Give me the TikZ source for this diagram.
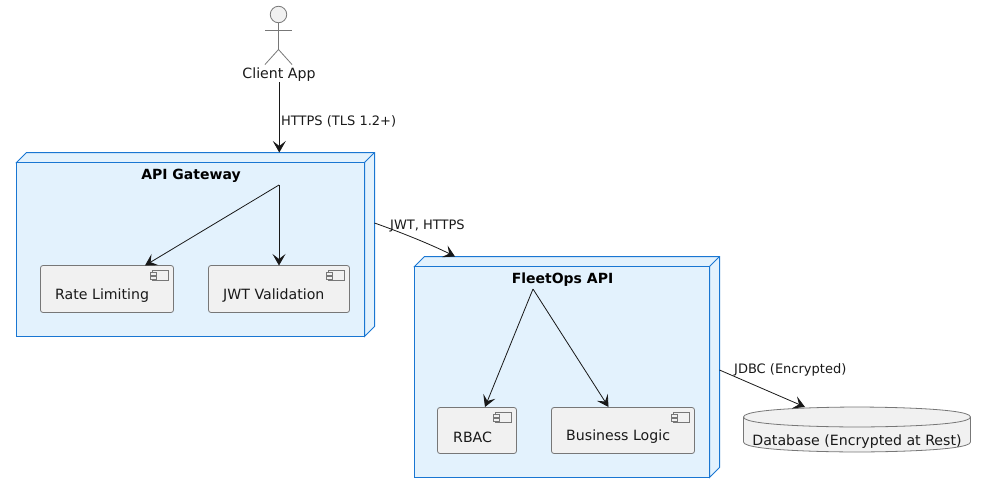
\documentclass[tikz,border=0pt]{standalone}
\usepackage{fontspec}
\setmainfont{DejaVu Sans}
\usetikzlibrary{arrows.meta,calc}
\definecolor{nodeblue}{HTML}{1976D2}
\definecolor{nodefill}{HTML}{E3F2FD}
\definecolor{compfill}{HTML}{F1F1F1}
\definecolor{ink}{HTML}{181818}
\definecolor{edgegray}{HTML}{777777}
\tikzset{
  x=1pt,y=-1pt,
  flow/.style={draw=ink,line width=0.8pt,-{Stealth[length=11.5pt,width=13pt,inset=5pt,line width=0.8pt,fill=ink]}},
  nodebox/.style={draw=nodeblue,fill=nodefill,line width=1pt,inner sep=0pt,outer sep=0pt},
  nodeside/.style={draw=nodeblue,fill=nodefill,line width=1pt,line join=miter},
  compbox/.style={draw=edgegray,fill=compfill,line width=0.8pt,rounded corners=2.5pt,inner sep=0pt,outer sep=0pt},
  iconbox/.style={draw=edgegray,fill=compfill,line width=0.8pt},
  lbl/.style={font=\fontsize{14.15}{16}\selectfont,text=black!90,inner sep=0pt},
  edgelbl/.style={font=\fontsize{13}{15}\selectfont,text=black!90,inner sep=0pt,anchor=west},
  titlelbl/.style={font=\fontsize{14}{16}\selectfont\bfseries,text=black,inner sep=0pt},
  actorline/.style={draw=edgegray,line width=0.8pt},
}
\begin{document}
\begin{tikzpicture}
\useasboundingbox (0,0) rectangle (986,493);

% Actor
\node[circle,draw=edgegray,fill=compfill,line width=0.8pt,minimum size=16.5pt,inner sep=0pt,outer sep=0pt] (head) at (278.5,14.5) {};
\coordinate (hip) at (278.5,49.5);
\coordinate (armL) at (265,30);
\coordinate (armR) at (292,30);
\coordinate (legL) at (265,64.5);
\coordinate (legR) at (292,64.5);
\draw[actorline] (head.south) -- (hip);
\draw[actorline] (armL) -- (armR);
\draw[actorline] (legL) -- (hip) -- (legR);
\node[lbl] (client) at (279,75) {Client App};

% API Gateway node
\draw[nodeside] (16.5,162.5) -- ++(10,-10) -- ++(348,0) -- ++(0,174) -- (364.5,336.5) -- (364.5,162.5) -- cycle;
\draw[nodeside] (364.5,162.5) -- ++(10,-10);
\node[nodebox,minimum width=348pt,minimum height=174pt] (gw) at (190.5,249.5) {};
\coordinate (gwtop) at (279.3,152.5);
\coordinate (gwright) at (374.5,223);
\node[titlelbl] (gwtitle) at (191,176) {API Gateway};
\coordinate (gwhub) at (279,185);

\node[compbox,minimum width=133pt,minimum height=47pt] (rate) at (107,289) {};
\node[lbl,anchor=west] (ratetxt) at (55,296) {Rate Limiting};
\node[compbox,minimum width=141pt,minimum height=47pt] (jwt) at (279,289) {};
\node[lbl,anchor=west] (jwttxt) at (223,296) {JWT Validation};

% FleetOps node
\draw[nodeside] (414.5,266.5) -- ++(10,-10) -- ++(295,0) -- ++(0,211) -- (709.5,477.5) -- (709.5,266.5) -- cycle;
\draw[nodeside] (709.5,266.5) -- ++(10,-10);
\node[nodebox,minimum width=295pt,minimum height=211pt] (fo) at (562,372) {};
\coordinate (fotop) at (455,256.5);
\coordinate (foright) at (719.5,370);
\node[titlelbl] (fotitle) at (562.5,280) {FleetOps API};
\coordinate (fohub) at (533,289);

\node[compbox,minimum width=79pt,minimum height=46pt] (rbac) at (477,430.5) {};
\node[lbl,anchor=west] (rbactxt) at (453,437) {RBAC};
\node[compbox,minimum width=143pt,minimum height=46pt] (biz) at (623,430.5) {};
\node[lbl,anchor=west] (biztxt) at (566,437) {Business Logic};

% Component icons
\foreach \n/\xr/\yt in {rate/173.5/265.5,jwt/349.5/265.5,rbac/516.5/407.5,biz/694.5/407.5}{
  \draw[iconbox] (\xr-21,\yt+5) rectangle (\xr-5,\yt+15);
  \draw[iconbox] (\xr-23,\yt+7) rectangle (\xr-17,\yt+9.5);
  \draw[iconbox] (\xr-23,\yt+11) rectangle (\xr-17,\yt+13.5);
}

% Database
\node[inner sep=0pt,minimum width=227pt,minimum height=45pt] (db) at (857,429.5) {};
\draw[draw=edgegray,fill=compfill,line width=0.8pt]
  (743.5,417) .. controls (743.5,407) and (857,407) .. (857,407)
  .. controls (857,407) and (970.5,407) .. (970.5,417)
  -- (970.5,442)
  .. controls (970.5,452) and (857,452) .. (857,452)
  .. controls (857,452) and (743.5,452) .. (743.5,442) -- cycle;
\draw[draw=edgegray,line width=0.8pt]
  (743.5,417) .. controls (743.5,427) and (857,427) .. (857,427)
  .. controls (857,427) and (970.5,427) .. (970.5,417);
\node[lbl] (dbtxt) at (857,442) {Database (Encrypted at Rest)};
\coordinate (dbtop) at (805,407);

% Connectors
\draw[flow] (client.south) ++(0.3,0) -- (gwtop);
\node[edgelbl] (l1) at (281,121.5) {HTTPS (TLS 1.2+)};
\draw[flow] (gwright) .. controls (400,232) and (430,244) .. (fotop);
\node[edgelbl] (l2) at (390,225.5) {JWT, HTTPS};
\draw[flow] (foright) -- (dbtop);
\node[edgelbl] (l3) at (734,369.5) {JDBC (Encrypted)};
\draw[flow] (gwhub) -- (145,265.5);
\draw[flow] (gwhub) -- (279,265.5);
\draw[flow] (fohub) -- (485,407);
\draw[flow] (fohub) -- (608.5,407);
\end{tikzpicture}
\end{document}
